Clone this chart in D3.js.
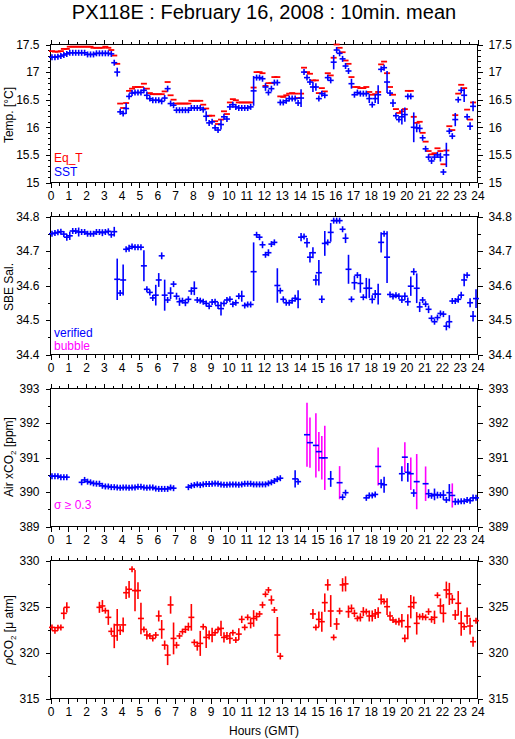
<!DOCTYPE html>
<html><head><meta charset="utf-8">
<script src="https://cdn.jsdelivr.net/npm/d3@7"></script>
<style>
body{margin:0;background:#fff}
svg{display:block}
text{font-family:"Liberation Sans",Arial,Helvetica,sans-serif;fill:#000}
</style>
</head><body>
<svg id="chart" width="515" height="739"></svg>
<script>
// ---------------- DATA (10-minute bins, 0..143) ----------------
const title = "PX118E : February 16, 2008 : 10min. mean";
const hourLabels = [0,1,2,3,4,5,6,7,8,9,10,11,12,13,14,15,16,17,18,19,20,21,22,23,24];
const tempTicks = [15,15.5,16,16.5,17,17.5];
const salTicks = [34.4,34.5,34.6,34.7,34.8];
const xco2Ticks = [389,390,391,392,393];
const pco2Ticks = [315,320,325,330];

const sstVal = [17.27,17.27,17.28,17.29,17.31,17.33,
17.35,17.35,17.35,17.35,17.35,17.35,
17.32,17.32,17.32,
17.34,17.34,17.34,17.34,17.34,
17.33,17.17,17.0,16.28,16.25,16.34,16.56,16.62,16.63,16.63,
16.63,16.67,16.58,16.52,16.49,16.49,16.49,16.47,16.53,16.7,
16.43,16.4,16.31,16.31,16.31,16.31,16.31,16.35,16.35,16.35,
16.35,16.32,16.2,16.08,16.1,15.99,15.95,16.05,16.19,16.15,
16.37,16.41,16.37,16.35,16.35,16.35,16.35,16.37,16.66,16.9,
16.9,16.88,16.73,16.63,16.7,16.81,16.81,16.45,16.45,16.48,
16.52,16.52,16.52,16.44,16.53,17.0,16.9,16.82,16.73,16.73,
16.52,16.61,16.58,16.9,16.85,17.18,17.4,17.34,17.24,17.11,
17.02,16.79,16.59,16.63,16.61,16.61,16.61,16.52,16.41,16.52,
16.59,17.05,17.08,16.82,16.62,16.44,16.21,16.14,16.19,16.23,
16.56,16.56,16.0,15.99,15.98,15.81,15.61,15.46,15.39,15.46,
15.5,15.46,15.19,15.5,15.93,15.84,16.14,16.5,16.67,16.58,
16.19,16.02,16.38,null];
const sstErr = {22:.08,23:.05,25:.1,26:.04,32:.07,52:.09,56:.04,57:.09,60:.05,68:.27,72:.07,77:.05,
84:.16,88:.09,89:.07,95:.13,101:.09,107:.08,109:.08,110:.17,113:.2,115:.07,118:.14,119:.13,
122:.27,123:.08,124:.07,131:.08,133:.22,136:.12,139:.12,141:.07,142:.09};

const eqtVal = [17.38,17.37,17.37,17.38,17.42,17.42,
17.46,17.46,17.46,17.46,17.46,17.46,17.46,17.46,
17.44,17.44,17.44,17.44,
17.46,17.44,
17.4,17.3,17.15,16.43,16.35,16.44,16.66,16.7,16.73,16.73,
16.73,16.79,16.7,16.62,16.6,16.6,16.6,16.6,16.65,16.82,
16.58,16.5,16.43,16.43,16.43,16.43,16.43,16.48,16.48,16.48,
16.48,16.41,16.34,16.21,16.21,16.11,16.06,16.14,16.29,16.24,
16.45,16.51,16.49,16.45,16.45,16.45,16.45,16.45,16.72,17.0,
17.0,16.98,16.75,16.8,16.8,16.91,16.91,16.56,16.55,16.58,
16.61,16.62,16.61,16.53,16.61,17.08,17.0,16.97,16.85,16.85,
16.62,16.71,16.65,16.98,16.94,17.26,17.5,17.44,17.36,17.21,
17.15,16.91,16.73,16.73,16.71,16.71,16.73,16.64,16.59,16.6,
16.64,17.14,17.19,16.98,16.73,16.59,16.33,16.26,16.29,16.33,
16.66,16.66,16.19,16.08,16.1,15.9,15.74,15.57,15.51,15.53,
15.62,15.57,15.33,15.58,16.02,15.95,16.22,16.61,16.77,16.71,
16.32,16.14,16.45,null];

const salVal = [34.75,34.752,34.754,34.756,34.749,34.74,34.744,34.758,34.758,34.755,
34.755,34.755,34.75,34.75,34.75,34.755,34.755,34.753,34.755,34.757,
34.747,34.756,34.618,34.578,34.616,34.705,34.708,34.713,34.711,34.711,
34.711,34.657,34.589,34.58,34.564,34.572,34.616,34.686,34.572,34.558,
34.578,34.604,34.569,34.553,34.556,34.55,34.56,34.584,34.592,34.558,
34.556,34.553,34.548,34.54,34.552,34.553,34.542,34.533,34.548,34.558,
34.56,34.546,34.55,34.569,34.569,34.542,34.545,34.545,34.64,34.747,
34.74,34.718,34.689,34.695,34.72,34.725,34.6,34.585,34.56,34.55,
34.55,34.556,34.563,34.56,34.74,34.742,34.724,34.682,34.695,34.616,
34.637,34.56,34.722,34.725,34.754,34.788,34.788,34.788,34.763,34.737,
34.647,34.56,34.608,34.63,34.606,34.566,34.592,34.592,34.56,34.575,
34.575,34.725,34.75,34.682,34.574,34.568,34.572,34.569,34.558,34.569,
34.553,34.598,34.64,34.592,34.538,34.558,34.546,34.531,34.505,34.495,
34.507,34.519,34.517,34.482,34.495,34.555,34.555,34.56,34.572,34.616,
34.63,34.55,34.511,34.562];
const salErr = {5:.01,6:.012,9:.013,17:.01,21:.014,22:.06,24:.045,26:.01,31:.045,35:.03,36:.02,37:.01,
38:.045,40:.017,42:.01,43:.012,45:.01,47:.011,48:.02,52:.008,56:.01,57:.02,61:.008,64:.016,68:.085,
71:.01,73:.01,76:.05,82:.01,83:.026,84:.012,86:.014,87:.015,88:.016,89:.015,90:.037,91:.011,92:.036,
94:.027,99:.014,100:.042,102:.02,104:.027,106:.03,107:.028,108:.012,109:.012,110:.03,111:.029,113:.075,
119:.011,120:.012,121:.028,122:.01,123:.043,124:.015,127:.011,128:.008,133:.012,134:.019,137:.01,
138:.01,139:.018,141:.013,142:.015,143:.027};

const xco2Val = [390.46,390.46,390.46,390.43,390.43,390.43,null,null,null,null,
390.28,390.35,390.3,390.28,390.25,390.24,390.24,390.18,390.16,390.16,
390.14,390.14,390.13,390.12,390.13,390.13,390.12,390.13,390.13,390.15,
390.15,390.13,390.12,390.13,390.13,390.1,390.09,390.09,390.09,390.09,
390.13,390.11,null,null,null,null,390.14,390.18,390.2,390.22,
390.2,390.22,390.23,390.23,390.24,390.25,390.24,390.22,390.21,390.21,
390.22,390.22,390.22,390.21,390.22,390.24,390.24,390.24,390.22,390.22,
390.22,390.22,390.22,390.25,390.28,390.32,390.37,390.4,null,null,
null,null,390.38,390.3,null,null,391.66,391.43,null,391.35,
391.17,390.99,390.99,null,390.38,null,null,390.27,389.85,389.98,
null,null,null,null,null,null,389.83,389.9,389.9,389.93,
390.74,390.24,390.21,null,null,null,null,null,390.53,391.01,
390.57,390.53,389.97,390.3,null,null,390.24,389.95,389.89,389.93,
389.91,389.91,389.91,389.77,389.98,389.9,389.72,389.72,389.73,389.73,
389.77,389.75,389.83,389.83];
const xco2Err = {11:.05,55:.04,82:.25,83:.03,86:.93,87:.73,89:.93,90:.57,91:.63,92:.93,94:.23,97:.48,
110:.55,111:.13,112:.23,118:.22,119:.43,120:.27,121:.47,122:.11,123:.8,126:.5,127:.13,128:.08,129:.17,
130:.1,131:.08,132:.14,134:.25,135:.35,136:.1,138:.05,140:.08,142:.1};

const pco2Val = [322.73,322.37,322.7,322.73,324.26,324.91,null,null,null,null,
null,null,null,null,null,null,324.91,325.06,324.55,323.82,
322.3,321.8,323.0,322.4,323.0,326.5,326.87,329.06,326.73,326.73,
323.7,322.51,321.9,321.8,321.53,321.9,323.97,322.51,320.8,319.72,
325.17,321.53,320.8,321.8,322.26,322.51,322.8,323.82,321.1,320.7,
320.99,322.8,321.64,321.9,321.9,322.15,322.51,322.62,321.64,321.8,
321.53,322.15,321.35,322.0,323.6,322.73,323.82,323.17,323.7,323.9,
324.19,325.17,326.33,326.8,325.71,324.62,321.9,319.6,null,null,
null,null,null,null,null,null,null,null,324.19,322.73,
323.6,323.35,325.42,327.35,324.51,321.64,323.1,324.51,327.35,327.46,
324.44,324.8,324.26,323.7,323.82,324.44,324.44,323.97,323.97,324.19,
324.33,325.78,325.53,324.98,323.97,323.53,323.35,323.35,323.46,321.53,
322.8,324.98,325.42,323.17,323.9,323.9,323.82,324.44,323.6,323.82,
326.22,325.06,324.26,326.8,326.37,325.78,324.08,325.35,323.17,322.8,
323.97,322.88,321.17,323.46];
const pco2Err = {4:.64,5:.55,16:.6,17:.64,19:.82,20:.4,21:1.33,22:1.73,23:.5,24:.8,25:.69,26:.91,27:.3,
28:2.24,29:.91,30:1.71,32:.5,36:.6,37:1.02,38:.5,39:1.09,40:.95,41:1.73,42:.36,45:.4,46:.45,47:1.45,
49:.5,50:1.36,51:.33,52:1.15,53:.5,54:.78,57:.84,58:.55,59:.44,60:.58,63:.64,64:.4,67:.55,68:.9,69:.45,
71:.36,72:.27,74:.49,75:.33,76:1.96,77:.36,88:.55,90:.85,91:1.09,92:1.0,93:.62,94:1.73,95:.31,96:.64,
97:.36,98:.73,99:.82,100:.67,101:.42,102:.4,104:.45,105:.49,107:.6,108:.6,109:.55,110:.58,111:.55,
113:.91,114:.49,117:.42,118:.73,119:.42,120:1.36,121:1.27,122:.67,123:1.22,125:.4,127:.36,128:.36,
129:.73,130:.27,131:.82,132:1.0,133:.91,134:1.2,135:.49,136:.55,137:1.33,138:1.35,139:.36,140:.91,
141:.91,142:.55,143:.31};

// ---------------- LAYOUT ----------------
const BLUE="#0000ff", RED="#ff0000", MAG="#ff00ff";
const svg = d3.select("#chart");
const x = d3.scaleLinear().domain([0,24]).range([50.5,477.5]);
const PH = 138;
const binHour = i => (i + 0.5) / 6;
const HALF = 3, VMIN = 3;

svg.append("text").attr("x",264).attr("y",18.5).attr("text-anchor","middle")
  .style("font-size","20px").text(title);

function panel(top, domain, ticks, minorStep, fmt) {
  const y = d3.scaleLinear().domain(domain).range([top+PH, top]);
  const g = svg.append("g");
  const halfHours = d3.range(0, 24.001, 0.5).filter(h => h % 1 !== 0);
  const minors = d3.range(domain[0], domain[1]+1e-9, minorStep)
      .filter(v => !ticks.some(t => Math.abs(t-v) < 1e-9));
  const style = s => s.call(a => a.select(".domain").remove())
      .call(a => a.selectAll("line").attr("stroke","#000").attr("shape-rendering","crispEdges"))
      .call(a => a.selectAll("text").style("font-size","12px").attr("fill","#000"));
  g.append("g").attr("transform",`translate(0,${top+PH})`)
    .call(d3.axisBottom(x).tickValues(hourLabels).tickSize(5).tickPadding(4).tickFormat(d3.format("d"))).call(style);
  g.append("g").attr("transform",`translate(0,${top+PH})`)
    .call(d3.axisBottom(x).tickValues(halfHours).tickSize(3).tickFormat("")).call(style);
  g.append("g").attr("transform",`translate(0,${top})`)
    .call(d3.axisTop(x).tickValues(hourLabels).tickSize(5).tickFormat("")).call(style);
  g.append("g").attr("transform",`translate(0,${top})`)
    .call(d3.axisTop(x).tickValues(halfHours).tickSize(3).tickFormat("")).call(style);
  g.append("g").attr("transform",`translate(${x(0)},0)`)
    .call(d3.axisLeft(y).tickValues(ticks).tickSize(5).tickPadding(6).tickFormat(fmt)).call(style);
  g.append("g").attr("transform",`translate(${x(0)},0)`)
    .call(d3.axisLeft(y).tickValues(minors).tickSize(3).tickFormat("")).call(style);
  g.append("g").attr("transform",`translate(${x(24)},0)`)
    .call(d3.axisRight(y).tickValues(ticks).tickSize(5).tickPadding(6).tickFormat(fmt)).call(style);
  g.append("g").attr("transform",`translate(${x(24)},0)`)
    .call(d3.axisRight(y).tickValues(minors).tickSize(3).tickFormat("")).call(style);
  g.append("rect").attr("x",x(0)).attr("y",top).attr("width",x(24)-x(0)).attr("height",PH)
    .attr("fill","none").attr("stroke","#000").attr("shape-rendering","crispEdges");
  return y;
}

function ylabel(yc, parts) {
  const t = svg.append("text").attr("transform",`translate(13,${yc}) rotate(-90)`)
    .attr("text-anchor","middle").style("font-size","12px");
  parts.forEach(p => {
    const s = t.append("tspan").text(p.t);
    if (p.sub) s.style("font-size","8px").attr("dy",3);
    if (p.after) s.attr("dy",-3);
    if (p.it) s.style("font-style","italic");
  });
}

function crosses(y, vals, errs, color, vColorFn) {
  const pts = vals.map((v,i) => ({i, v, e: errs[i] || 0})).filter(d => d.v !== null);
  const g = svg.append("g");
  g.selectAll("line.v").data(pts).join("line").attr("class","v")
    .attr("x1", d => x(binHour(d.i))).attr("x2", d => x(binHour(d.i)))
    .attr("y1", d => Math.min(y(d.v + d.e), y(d.v) - VMIN))
    .attr("y2", d => Math.max(y(d.v - d.e), y(d.v) + VMIN))
    .attr("stroke", d => vColorFn(d)).attr("stroke-width", 1.6);
  g.selectAll("line.h").data(pts).join("line").attr("class","h")
    .attr("x1", d => x(binHour(d.i)) - HALF).attr("x2", d => x(binHour(d.i)) + HALF)
    .attr("y1", d => y(d.v)).attr("y2", d => y(d.v))
    .attr("stroke", color).attr("stroke-width", 1.6);
}

function dashes(y, vals, color) {
  const pts = vals.map((v,i) => ({i, v})).filter(d => d.v !== null);
  svg.append("g").selectAll("line").data(pts).join("line")
    .attr("x1", d => x(binHour(d.i)) - HALF).attr("x2", d => x(binHour(d.i)) + HALF)
    .attr("y1", d => y(d.v)).attr("y2", d => y(d.v))
    .attr("stroke", color).attr("stroke-width", 1.8);
}

function legend(xp, yp, txt, color) {
  svg.append("text").attr("x",xp).attr("y",yp).style("font-size","12px")
    .style("fill",color).text(txt);
}

const fmt = d => String(+d.toFixed(2));

// Panel 1: temperature
const y1 = panel(44.5, [15,17.5], tempTicks, 0.1, fmt);
dashes(y1, eqtVal, RED);
crosses(y1, sstVal, sstErr, BLUE, () => BLUE);
ylabel(115, [{t:"Temp. [°C]"}]);
legend(54, 162, "Eq_T", RED);
legend(54, 176, "SST", BLUE);

// Panel 2: salinity
const y2 = panel(216.5, [34.4,34.8], salTicks, 0.05, fmt);
crosses(y2, salVal, salErr, BLUE, () => BLUE);
ylabel(287, [{t:"SBE Sal."}]);
legend(54, 337, "verified", BLUE);
legend(54, 350, "bubble", MAG);

// Panel 3: air xCO2
const y3 = panel(388.5, [389,393], xco2Ticks, 0.5, fmt);
crosses(y3, xco2Val, xco2Err, BLUE, d => d.e >= 0.3 ? MAG : BLUE);
ylabel(457, [{t:"Air xCO"},{t:"2",sub:true},{t:" [ppm]",after:true}]);
legend(54, 509, "σ ≥ 0.3", MAG);

// Panel 4: pCO2
const y4 = panel(560.5, [315,330], pco2Ticks, 2.5, fmt);
crosses(y4, pco2Val, pco2Err, RED, () => RED);
ylabel(630, [{t:"ρ",it:true},{t:"CO"},{t:"2",sub:true},{t:" [μ atm]",after:true}]);

svg.append("text").attr("x",264).attr("y",735).attr("text-anchor","middle")
  .style("font-size","12px").text("Hours (GMT)");
</script>
</body></html>
